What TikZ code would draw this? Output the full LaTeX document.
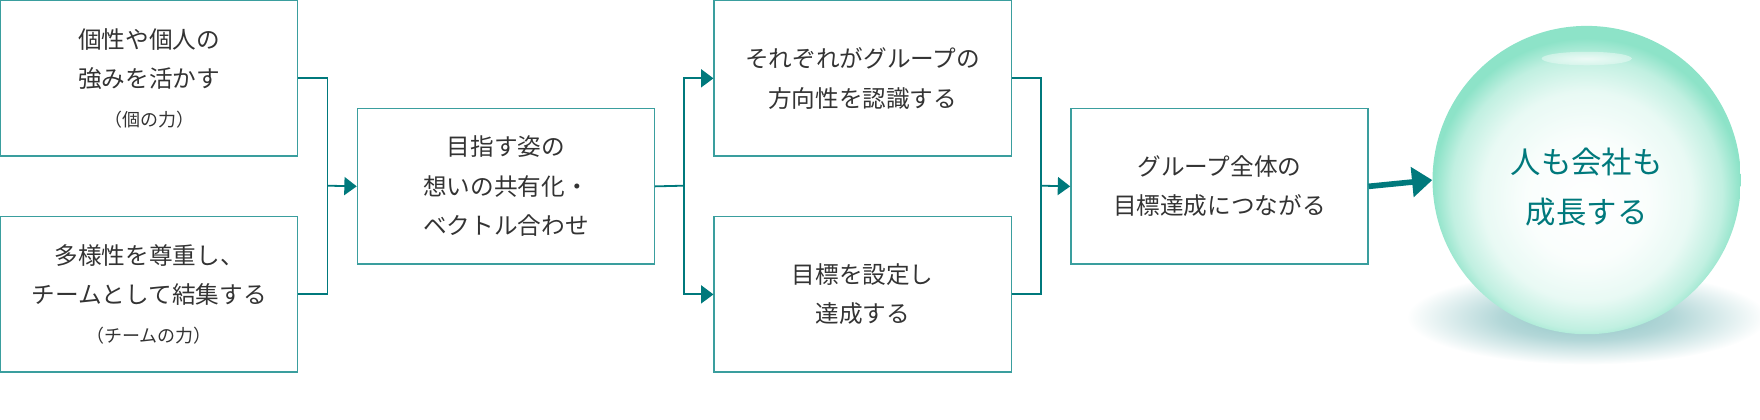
\documentclass[tikz,border=0pt]{standalone}
\usepackage{fontspec}
\usetikzlibrary{arrows.meta}
\setmainfont{Noto Sans CJK JP}
\definecolor{teal1}{HTML}{00797C}
\definecolor{tealb}{HTML}{3A9E9E}
\definecolor{txt}{HTML}{333333}
\definecolor{mint}{HTML}{8DE3C8}
\pgfdeclareradialshading{sphereshade}{\pgfpoint{0bp}{-4bp}}{%
  color(0bp)=(white);color(10bp)=(white!95!mint);color(17bp)=(white!80!mint);
  color(22bp)=(white!45!mint);color(25bp)=(mint);color(50bp)=(mint)}
\pgfdeclareradialshading{shadowshade}{\pgfpoint{0bp}{0bp}}{%
  color(0bp)=(teal1!45);color(12bp)=(teal1!30);color(25bp)=(white);color(50bp)=(white)}
\begin{document}
\begin{tikzpicture}[x=1pt,y=-1pt,
  box/.style={draw=tealb,line width=1.2pt,minimum width=264pt,minimum height=138pt,anchor=north west,align=center,text=txt,font=\fontsize{21}{35}\selectfont,inner sep=0pt},
  conn/.style={draw=teal1,line width=1.6pt},
  arr/.style={conn,-{Triangle[length=11pt,width=16pt]}}]
\useasboundingbox (0,0) rectangle (1564,373);
\node[box] (b1) at (0,0) {個性や個人の\\強みを活かす\\{\fontsize{16}{32}\selectfont （個の力）}};
\node[box] (b2) at (0,192) {多様性を尊重し、\\チームとして結集する\\{\fontsize{16}{32}\selectfont （チームの力）}};
\node[box] (b3) at (317,96) {目指す姿の\\想いの共有化・\\ベクトル合わせ};
\node[box] (b4) at (634,0) {それぞれがグループの\\方向性を認識する};
\node[box] (b5) at (634,192) {目標を設定し\\達成する};
\node[box] (b6) at (951,96) {グループ全体の\\目標達成につながる};
\coordinate (j1) at (291,165);
\coordinate (j2) at (608,165);
\coordinate (j3) at (925,165);
\draw[conn] (b1.east) -| (j1);
\draw[conn] (b2.east) -| (j1);
\draw[arr] (j1) -- (b3.west);
\draw[conn] (b3.east) -- (j2);
\draw[arr] (j2) |- (b4.west);
\draw[arr] (j2) |- (b5.west);
\draw[conn] (b4.east) -| (j3);
\draw[conn] (b5.east) -| (j3);
\draw[arr] (j3) -- (b6.west);
% shadow
\shade[shading=shadowshade] (1410,282) ellipse [x radius=160pt,y radius=42pt];
% sphere
\node[circle,minimum size=274pt,inner sep=0pt] (s) at (1410,160) {};
\shade[shading=sphereshade] (s.center) circle [radius=137pt];
\shade[inner color=white,outer color=white!70!mint,opacity=0.7] (1410,52) ellipse [x radius=40pt,y radius=6pt];
\node[text=teal1,align=center,font=\fontsize{27}{44}\selectfont] at (1410,166) {人も会社も\\成長する};
\draw[teal1,line width=5pt,-{Triangle[length=18pt,width=26pt]}] (b6.east) -- (s.west);
\end{tikzpicture}
\end{document}
